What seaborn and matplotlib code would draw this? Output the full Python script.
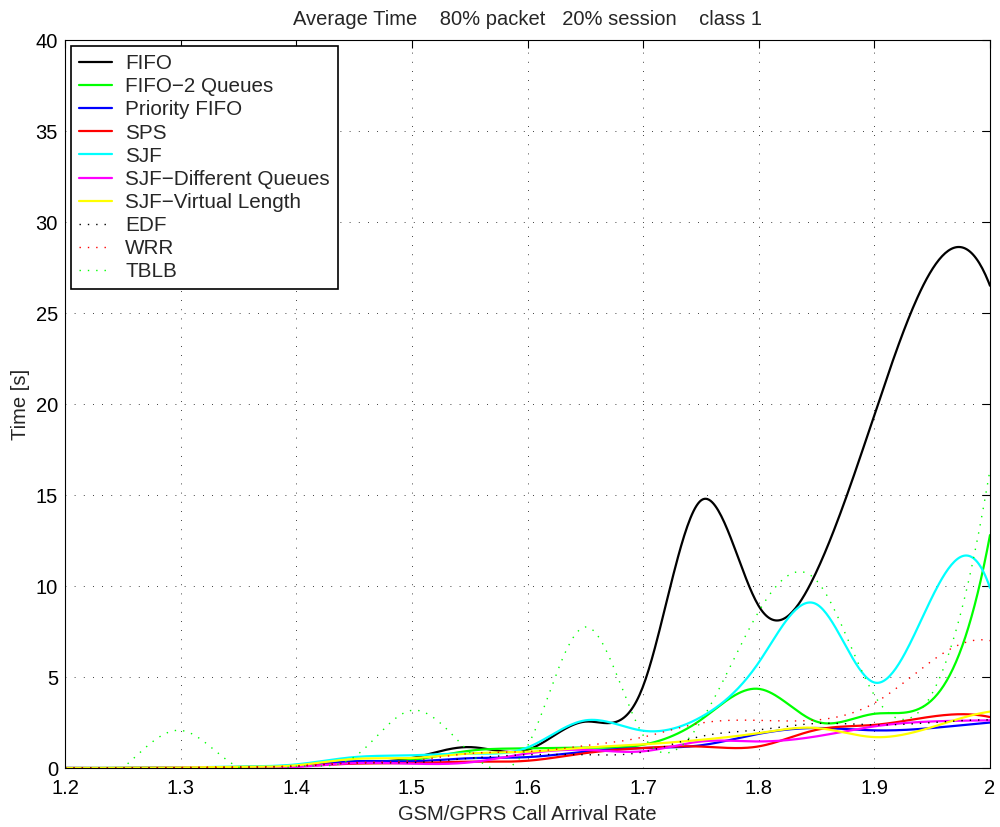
import numpy as np
import pandas as pd
import matplotlib
matplotlib.use("Agg")
import matplotlib.pyplot as plt
import seaborn as sns

# ---------------- data (values read at each arrival-rate sample) ----------------
arrival_rate = [1.20, 1.25, 1.30, 1.35, 1.40, 1.45, 1.50, 1.55, 1.60,
                1.65, 1.70, 1.75, 1.80, 1.85, 1.90, 1.95, 2.00]

fifo        = [0.00, 0.00, 0.02, 0.05, 0.12, 0.30, 0.55, 1.15, 1.00,
               2.55, 4.50, 14.70, 8.90, 10.80, 19.40, 27.40, 26.50]
fifo_2q     = [0.00, 0.00, 0.02, 0.05, 0.15, 0.35, 0.45, 0.95, 1.08,
               1.12, 1.28, 2.65, 4.35, 2.55, 2.98, 3.75, 12.80]
prio_fifo   = [0.00, 0.00, 0.02, 0.05, 0.12, 0.37, 0.37, 0.54, 0.60,
               0.90, 1.10, 1.25, 1.88, 2.20, 2.07, 2.20, 2.50]
sps         = [0.00, 0.00, 0.02, 0.05, 0.10, 0.24, 0.27, 0.35, 0.40,
               0.82, 1.10, 1.18, 1.19, 2.10, 2.37, 2.83, 2.80]
sjf         = [0.00, 0.01, 0.03, 0.08, 0.20, 0.60, 0.70, 0.80, 1.13,
               2.62, 2.05, 2.80, 5.80, 9.00, 4.70, 9.40, 9.90]
sjf_diffq   = [0.00, 0.00, 0.02, 0.04, 0.06, 0.27, 0.24, 0.31, 0.80,
               1.00, 0.92, 1.46, 1.46, 1.74, 2.29, 2.56, 2.62]
sjf_virtual = [0.00, 0.01, 0.03, 0.06, 0.15, 0.50, 0.55, 0.80, 0.90,
               1.12, 1.30, 1.55, 1.92, 2.20, 1.70, 2.25, 3.10]
edf         = [0.00, 0.00, 0.02, 0.05, 0.10, 0.28, 0.30, 0.54, 0.73,
               0.73, 0.88, 1.74, 2.10, 2.45, 2.37, 2.50, 2.65]
wrr         = [0.00, 0.00, 0.02, 0.05, 0.12, 0.30, 0.40, 0.80, 0.90,
               1.23, 1.70, 2.47, 2.62, 2.64, 3.57, 5.90, 7.00]
tblb        = [0.00, 0.00, 2.07, 0.05, 0.10, 0.60, 3.17, 0.86, 1.20,
               7.75, 1.80, 2.56, 8.60, 10.30, 4.00, 4.10, 16.40]

series_names = ["FIFO", "FIFO\u22122 Queues", "Priority FIFO", "SPS", "SJF",
                "SJF\u2212Different Queues", "SJF\u2212Virtual Length",
                "EDF", "WRR", "TBLB"]
series_values = [fifo, fifo_2q, prio_fifo, sps, sjf, sjf_diffq, sjf_virtual,
                 edf, wrr, tblb]
series_colors = ["#000000", "#00ff00", "#0000ff", "#ff0000", "#00ffff",
                 "#ff00ff", "#ffff00", "#000000", "#ff0000", "#00ff00"]
series_dotted = [False] * 7 + [True] * 3

title_text = "Average Time    80% packet   20% session    class 1"
x_label = "GSM/GPRS Call Arrival Rate"
y_label = "Time [s]"
x_ticks = [1.2, 1.3, 1.4, 1.5, 1.6, 1.7, 1.8, 1.9, 2.0]
x_tick_labels = ["1.2", "1.3", "1.4", "1.5", "1.6", "1.7", "1.8", "1.9", "2"]
y_ticks = [0, 5, 10, 15, 20, 25, 30, 35, 40]


# ------------- smooth rendering (cubic spline, not-a-knot, like MATLAB) -------------
def spline_curve(x, y, num=600):
    x = np.asarray(x, float)
    y = np.asarray(y, float)
    n = len(x)
    h = np.diff(x)
    A = np.zeros((n, n))
    b = np.zeros(n)
    A[0, 0], A[0, 1], A[0, 2] = h[1], -(h[0] + h[1]), h[0]
    A[-1, -3], A[-1, -2], A[-1, -1] = h[-1], -(h[-2] + h[-1]), h[-2]
    for i in range(1, n - 1):
        A[i, i - 1] = h[i - 1]
        A[i, i] = 2 * (h[i - 1] + h[i])
        A[i, i + 1] = h[i]
        b[i] = 6 * ((y[i + 1] - y[i]) / h[i] - (y[i] - y[i - 1]) / h[i - 1])
    M = np.linalg.solve(A, b)
    xq = np.linspace(x[0], x[-1], num)
    idx = np.clip(np.searchsorted(x, xq) - 1, 0, n - 2)
    x0, x1 = x[idx], x[idx + 1]
    hh = x1 - x0
    yq = (M[idx] * (x1 - xq) ** 3 / (6 * hh) + M[idx + 1] * (xq - x0) ** 3 / (6 * hh)
          + (y[idx] / hh - M[idx] * hh / 6) * (x1 - xq)
          + (y[idx + 1] / hh - M[idx + 1] * hh / 6) * (xq - x0))
    return xq, yq


# ---------------- figure ----------------
sns.set_style("white")
plt.rcParams["font.family"] = ["Liberation Sans", "DejaVu Sans"]
FS = 14.5

fig = plt.figure(figsize=(10, 8.27), dpi=100)
ax = fig.add_axes([0.065, 0.0713, 0.925, 0.8803])

handles = []
for name, vals, col, dotted in zip(series_names, series_values, series_colors, series_dotted):
    xs, ys = spline_curve(arrival_rate, vals)
    df = pd.DataFrame({"rate": xs, "time": ys})
    if dotted:
        sns.lineplot(data=df, x="rate", y="time", ax=ax, color=col, lw=1.0,
                     estimator=None, sort=False, linestyle=(0, (1, 5)))
    else:
        sns.lineplot(data=df, x="rate", y="time", ax=ax, color=col, lw=1.6,
                     estimator=None, sort=False)
    ln = ax.lines[-1]
    ln.set_label(name)
    handles.append(ln)

ax.set_xlim(1.2, 2.0)
ax.set_ylim(0, 40)
ax.set_xticks(x_ticks)
ax.set_xticklabels(x_tick_labels)
ax.set_yticks(y_ticks)
ax.tick_params(direction="in", length=6, width=0.8, top=True, right=True,
               labelsize=FS, colors="black")
ax.tick_params(axis="x", pad=8)
ax.tick_params(axis="y", pad=5)
for sp in ax.spines.values():
    sp.set_visible(True)
    sp.set_color("black")
    sp.set_linewidth(0.8)

ax.grid(True, color="black", linestyle=(0, (1, 10)), linewidth=0.6)
ax.set_axisbelow(True)

ax.set_title(title_text, fontsize=FS, pad=11)
ax.set_xlabel(x_label, fontsize=FS, labelpad=5)
ax.set_ylabel(y_label, fontsize=FS, labelpad=4)

leg = ax.legend(handles=handles, loc="upper left", fontsize=14.9, frameon=True,
                fancybox=False, framealpha=1, edgecolor="black",
                handlelength=1.6, handletextpad=0.62, labelspacing=0.2,
                borderpad=0.38, borderaxespad=0.3)
leg.get_frame().set_linewidth(1.2)

fig.savefig("out.png", dpi=100)
